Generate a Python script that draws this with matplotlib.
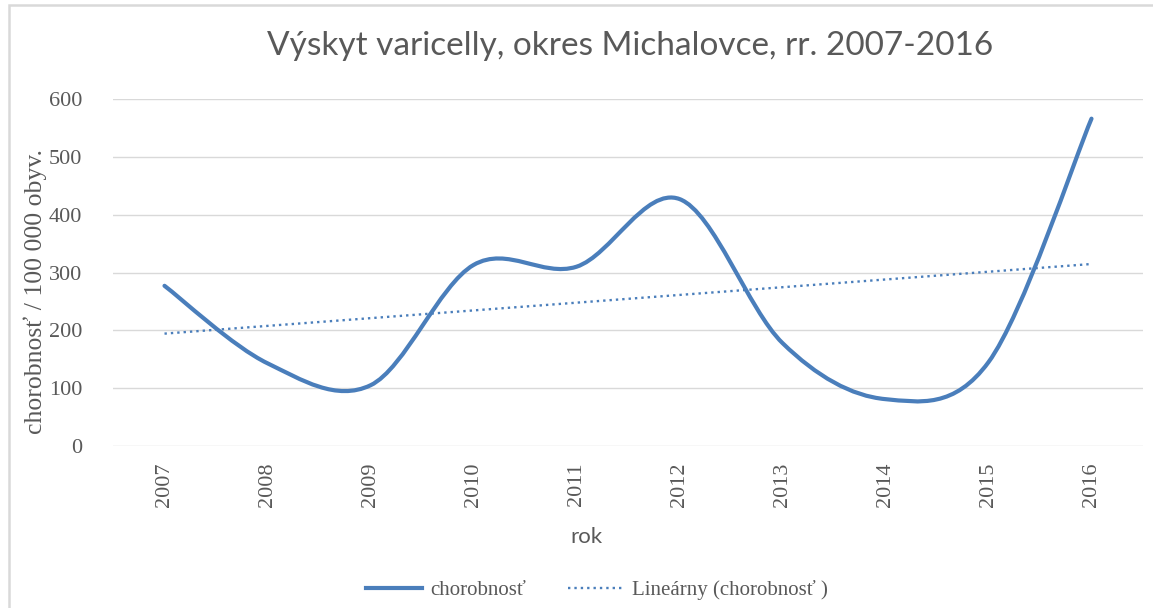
import numpy as np
import matplotlib
matplotlib.use("Agg")
import matplotlib.pyplot as plt
from matplotlib.path import Path
from matplotlib.patches import PathPatch, Rectangle
from matplotlib.lines import Line2D

# data
years = ["2007", "2008", "2009", "2010", "2011", "2012", "2013", "2014", "2015", "2016"]
chorobnost = [277, 143, 105, 313, 310, 427, 178, 81, 145, 566]
y_ticks = [0, 100, 200, 300, 400, 500, 600]

BLUE = "#4A7EBB"
GRAY_TEXT = "#595959"
GRID = "#D9D9D9"
SERIF = "Liberation Serif"
SANS = "Lato"
W, H = 1153, 608


def smooth_path(xs, ys):
    # Excel-like smoothed line: Catmull-Rom segments as cubic Bezier curves
    pts = np.column_stack([xs, ys]).astype(float)
    n = len(pts)
    verts = [pts[0]]
    codes = [Path.MOVETO]
    for i in range(n - 1):
        p0 = pts[i - 1] if i > 0 else pts[i]
        p1 = pts[i]
        p2 = pts[i + 1]
        p3 = pts[i + 2] if i + 2 < n else pts[i + 1]
        c1 = p1 + (p2 - p0) / 6.0
        c2 = p2 - (p3 - p1) / 6.0
        verts += [c1, c2, p2]
        codes += [Path.CURVE4] * 3
    return Path(verts, codes)


fig = plt.figure(figsize=(W / 100, H / 100), dpi=100)
fig.patch.set_facecolor("white")

# chart border (Excel chart area)
fig.patches.append(Rectangle((9 / W, -0.05), 1.2, 1 - 5 / H + 0.05,
                             transform=fig.transFigure, fill=False,
                             edgecolor=GRID, linewidth=1.8))

ax = fig.add_axes([113 / W, 1 - 446 / H, 1030 / W, 347 / H])
x = np.arange(len(years))

ax.add_patch(PathPatch(smooth_path(x, chorobnost), fill=False,
                       edgecolor=BLUE, linewidth=3.0, capstyle="round",
                       joinstyle="round", zorder=3))

# linear trend line
k, q = np.polyfit(x, chorobnost, 1)
ax.plot(x[[0, -1]], k * x[[0, -1]] + q, color=BLUE, linewidth=1.7,
        linestyle=(0, (1, 1.7)), zorder=2)

ax.set_xlim(-0.5, len(years) - 0.5)
ax.set_ylim(0, 600)
ax.set_yticks(y_ticks)
ax.set_xticks(x)
ax.set_xticklabels(years, rotation=90, fontfamily=SERIF, fontsize=16, color=GRAY_TEXT)
ax.set_yticklabels([str(v) for v in y_ticks], fontfamily=SERIF, fontsize=16, color=GRAY_TEXT)
ax.tick_params(length=0, pad=12)
ax.tick_params(axis="y", pad=22)
for s in ax.spines.values():
    s.set_visible(False)
ax.grid(axis="y", color=GRID, linewidth=1.0)
ax.set_axisbelow(True)

# axis titles placed like in the Excel original
fig.text(35 / W, 1 - 291 / H, "chorobnosť / 100 000 obyv.", rotation=90,
         ha="center", va="center", fontfamily=SERIF, fontsize=18.5, color=GRAY_TEXT)
fig.text(586 / W, 1 - 537 / H, "rok", ha="center", va="center",
         fontfamily=SANS, fontsize=16, color=GRAY_TEXT)

fig.text(630 / W, 1 - 46 / H, "Výskyt varicelly, okres Michalovce, rr. 2007-2016",
         ha="center", va="center", fontfamily=SANS, fontsize=24, color=GRAY_TEXT)

handles = [Line2D([], [], color=BLUE, linewidth=3.0),
           Line2D([], [], color=BLUE, linewidth=1.7, linestyle=(0, (1, 1.7)))]
fig.legend(handles, ["chorobnosť", "Lineárny (chorobnosť )"],
           loc="center", bbox_to_anchor=(597 / W, 1 - 590 / H), ncol=2,
           frameon=False, handlelength=2.7, handletextpad=0.4, columnspacing=2.0,
           prop={"family": SERIF, "size": 15}, labelcolor=GRAY_TEXT)

fig.savefig("out.png", dpi=100)
